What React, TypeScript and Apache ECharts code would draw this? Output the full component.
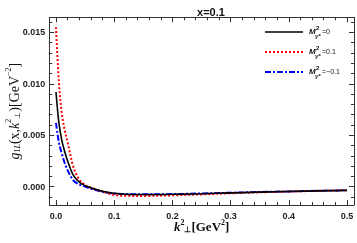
import React, { useEffect, useRef } from "react";
import * as echarts from "echarts";

const kValues = [0, 0.005, 0.01, 0.015, 0.02, 0.03, 0.04, 0.05, 0.06, 0.08, 0.1, 0.12, 0.15, 0.2, 0.25, 0.3, 0.35, 0.4, 0.45, 0.5];
const gBlack = [0.0092, 0.0062, 0.0045, 0.0034, 0.0025, 0.0011, 0.00045, 0.0001, -0.0001, -0.00045, -0.00064, -0.00073, -0.00076, -0.00074, -0.00068, -0.0006, -0.00053, -0.00047, -0.00041, -0.00036];
const gRed = [0.0155, 0.0102, 0.0071, 0.0055, 0.0043, 0.0019, 0.0007, 0.00015, -0.0001, -0.00048, -0.0008, -0.00088, -0.0009, -0.00084, -0.00075, -0.00064, -0.00055, -0.00047, -0.0004, -0.00034];
const gBlue = [0.0062, 0.0043, 0.0032, 0.0023, 0.0016, 0.0006, 0.00022, 0.0, -0.0002, -0.0005, -0.00066, -0.00072, -0.00074, -0.00072, -0.00066, -0.00059, -0.00052, -0.00046, -0.0004, -0.00035];

const seriesNames = ["0", "0.1", "\u22120.1"];
const xMajor = [0, 0.1, 0.2, 0.3, 0.4, 0.5];
const xMinor = [0.02, 0.04, 0.06, 0.08, 0.12, 0.14, 0.16, 0.18, 0.22, 0.24, 0.26, 0.28, 0.32, 0.34, 0.36, 0.38, 0.42, 0.44, 0.46, 0.48];
const yMajor = [0, 0.005, 0.01, 0.015];
const yMinor = [-0.001, 0.001, 0.002, 0.003, 0.004, 0.006, 0.007, 0.008, 0.009, 0.011, 0.012, 0.013, 0.014, 0.016];

const X_MIN = -0.0115;
const X_MAX = 0.512;
const Y_MIN = -0.00178;
const Y_MAX = 0.01646;

const FRAME = "#333";
const sans = "Liberation Sans";
const serif = "Liberation Serif";

export default function App() {
  const ref = useRef<HTMLDivElement>(null);
  useEffect(() => {
    if (!ref.current) return;
    const chart = echarts.init(ref.current, null, { renderer: "svg" });
    const mk = (ys: number[]) => kValues.map((k, i) => [k, ys[i]]);

    const xBase = { type: "value", min: X_MIN, max: X_MAX, splitLine: { show: false } };
    const yBase = { type: "value", min: Y_MIN, max: Y_MAX, splitLine: { show: false } };
    const frameLine = { show: true, onZero: false, lineStyle: { color: FRAME, width: 1 } };
    const hiddenLine = { show: false, onZero: false };

    const xAxes = [
      {
        ...xBase, position: "bottom",
        axisLine: frameLine,
        axisTick: { show: true, inside: true, length: 5, customValues: xMajor, lineStyle: { color: FRAME } },
        axisLabel: { show: true, customValues: xMajor, margin: 6, fontFamily: sans, fontWeight: "bold", fontSize: 9, color: "#222", formatter: (v: number) => v.toFixed(1) },
        name: "{k|k}{sup|2}{sub|\u22a5}{n|[GeV}{sup|2}{n|]}",
        nameLocation: "middle", nameGap: 13, nameMoveOverlap: false,
        nameTextStyle: {
          rich: {
            k: { fontFamily: serif, fontStyle: "italic", fontWeight: "bold", fontSize: 13, color: "#111", lineHeight: 15, verticalAlign: "bottom" },
            n: { fontFamily: serif, fontWeight: "bold", fontSize: 13, color: "#111", lineHeight: 15, verticalAlign: "bottom" },
            sup: { fontFamily: serif, fontWeight: "bold", fontSize: 8, color: "#111", verticalAlign: "top" },
            sub: { fontFamily: serif, fontWeight: "bold", fontSize: 8, color: "#111", verticalAlign: "bottom" },
          },
        },
      },
      {
        ...xBase, position: "bottom",
        axisLine: hiddenLine,
        axisTick: { show: true, inside: true, length: 3, customValues: xMinor, lineStyle: { color: FRAME } },
        axisLabel: { show: false },
      },
      {
        ...xBase, position: "top",
        axisLine: frameLine,
        axisTick: { show: true, inside: true, length: 5, customValues: xMajor, lineStyle: { color: FRAME } },
        axisLabel: { show: false },
      },
      {
        ...xBase, position: "top",
        axisLine: hiddenLine,
        axisTick: { show: true, inside: true, length: 3, customValues: xMinor, lineStyle: { color: FRAME } },
        axisLabel: { show: false },
      },
    ];

    const yAxes = [
      {
        ...yBase, position: "left",
        axisLine: frameLine,
        axisTick: { show: true, inside: true, length: 5, customValues: yMajor, lineStyle: { color: FRAME } },
        axisLabel: { show: true, customValues: yMajor, margin: 4, fontFamily: sans, fontWeight: "bold", fontSize: 9, color: "#222", formatter: (v: number) => v.toFixed(3) },
        name: "{g|g}{sub|1}{subi|L}{n|(x,}{g|k}{sup|2}{sub|\u22a5}{n|)[GeV}{sup|\u22122}{n|]}",
        nameLocation: "middle", nameRotate: 90, nameGap: 28, nameMoveOverlap: false,
        nameTextStyle: {
          rich: {
            g: { fontFamily: serif, fontStyle: "italic", fontSize: 14, color: "#111", lineHeight: 17, verticalAlign: "bottom" },
            n: { fontFamily: serif, fontSize: 14, color: "#111", lineHeight: 17, verticalAlign: "bottom" },
            sup: { fontFamily: serif, fontSize: 8, color: "#111", verticalAlign: "top" },
            sub: { fontFamily: serif, fontSize: 8, color: "#111", verticalAlign: "bottom" },
            subi: { fontFamily: serif, fontStyle: "italic", fontSize: 8, color: "#111", verticalAlign: "bottom" },
          },
        },
      },
      {
        ...yBase, position: "left",
        axisLine: hiddenLine,
        axisTick: { show: true, inside: true, length: 3, customValues: yMinor, lineStyle: { color: FRAME } },
        axisLabel: { show: false },
      },
      {
        ...yBase, position: "right",
        axisLine: frameLine,
        axisTick: { show: true, inside: true, length: 5, customValues: yMajor, lineStyle: { color: FRAME } },
        axisLabel: { show: false },
      },
      {
        ...yBase, position: "right",
        axisLine: hiddenLine,
        axisTick: { show: true, inside: true, length: 3, customValues: yMinor, lineStyle: { color: FRAME } },
        axisLabel: { show: false },
      },
    ];

    const styles = [
      { color: "#000000", type: "solid", width: 1.6 },
      { color: "#ff0000", type: [2, 2], width: 2 },
      { color: "#0000ff", type: [6, 2, 2, 2], width: 2 },
    ];
    const datas = [gBlack, gRed, gBlue];

    const series = datas.map((d, i) => ({
      type: "line",
      name: seriesNames[i],
      data: mk(d),
      xAxisIndex: 0,
      yAxisIndex: 0,
      smooth: 0.35,
      showSymbol: false,
      lineStyle: styles[i],
      z: 3 - i,
    }));

    const legendX0 = 265;
    const legendX1 = 303;
    const legendY = [32, 52, 72];
    const graphic: any[] = [];
    seriesNames.forEach((nm, i) => {
      const y = legendY[i];
      const s = styles[i];
      graphic.push({
        type: "line",
        shape: { x1: legendX0, y1: y, x2: legendX1, y2: y },
        style: { stroke: s.color, lineWidth: s.width, lineDash: s.type === "solid" ? null : s.type },
      });
      graphic.push({ type: "text", x: 309, y: y + 3, style: { text: "M", fontFamily: sans, fontStyle: "italic", fontWeight: "bold", fontSize: 8, fill: "#111", verticalAlign: "bottom" } });
      graphic.push({ type: "text", x: 316, y: y - 1, style: { text: "2", fontFamily: sans, fontWeight: "bold", fontSize: 6, fill: "#111", verticalAlign: "bottom" } });
      graphic.push({ type: "text", x: 315, y: y + 1, style: { text: "\u03b3*", fontFamily: sans, fontStyle: "italic", fontWeight: "bold", fontSize: 6, fill: "#111", verticalAlign: "top" } });
      graphic.push({ type: "text", x: 322, y: y + 3, style: { text: "=" + nm, fontFamily: sans, fontSize: 7, fill: "#111", verticalAlign: "bottom" } });
    });

    chart.setOption({
      animation: false,
      title: {
        text: "x=0.1",
        left: 206,
        top: 1,
        textAlign: "center",
        textStyle: { fontFamily: sans, fontWeight: "bold", fontSize: 11, color: "#111" },
      },
      grid: { left: 49.3, right: 3, top: 17.3, bottom: 38, containLabel: false, outerBoundsMode: "none" },
      xAxis: xAxes,
      yAxis: yAxes,
      series,
      graphic,
    } as any);
    return () => chart.dispose();
  }, []);
  return <div ref={ref} style={{ position: "fixed", left: 0, top: 0, width: 357, height: 243 }} />;
}
